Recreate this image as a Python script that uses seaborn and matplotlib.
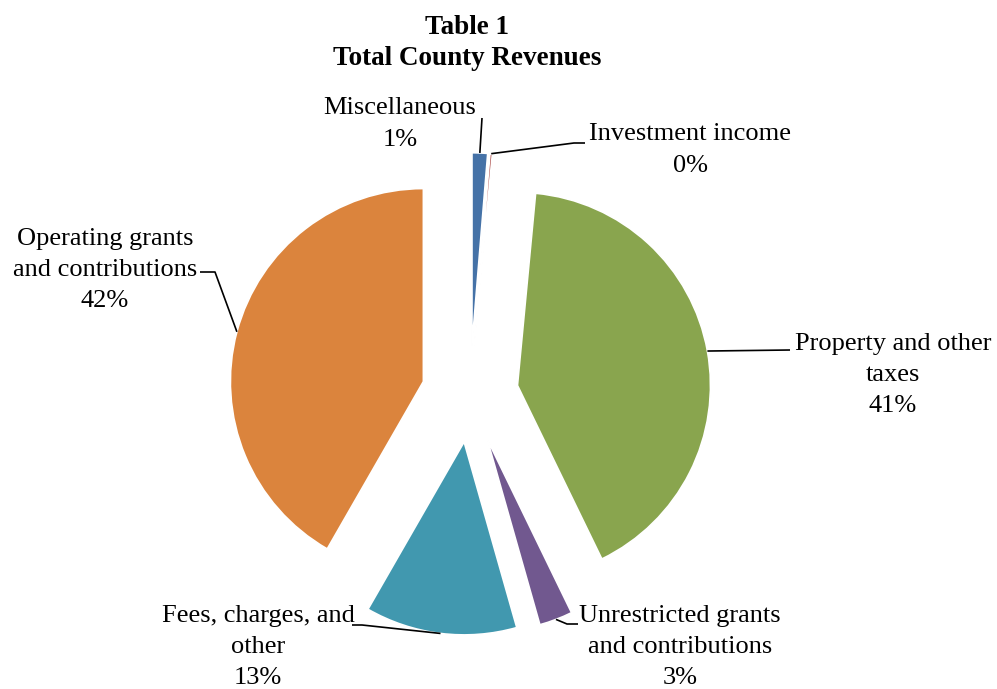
import matplotlib
matplotlib.use("Agg")
import matplotlib.pyplot as plt
import numpy as np
import seaborn as sns

# data (share of total county revenues, %)
categories = ["Miscellaneous", "Investment income", "Property and other\ntaxes",
              "Unrestricted grants\nand contributions", "Fees, charges, and\nother",
              "Operating grants\nand contributions"]
values = [1.3, 0.2, 41.3, 2.8, 12.7, 41.7]
colors = ["#4572A7", "#AA4643", "#89A54E", "#71588F", "#4198AF", "#DB843D"]

W, H = 997, 689
R = 193  # pie radius in pixels

sns.set_theme(style="white")
plt.rcParams["font.family"] = ["Liberation Serif", "DejaVu Serif"]
plt.rcParams["text.color"] = "black"

fig = plt.figure(figsize=(W / 100, H / 100), dpi=100)
ax = fig.add_axes([0, 0, 1, 1])

palette = sns.color_palette(colors)
# explode is in data units, so scale it by the radius
wedges, _ = ax.pie(values, colors=palette, startangle=90, counterclock=False,
                   explode=[0.25 * R] * len(values), radius=R, center=(470, H - 394),
                   wedgeprops=dict(edgecolor="white", linewidth=1.2), frame=True)
ax.set_xlim(0, W)
ax.set_ylim(0, H)
ax.set_aspect("equal")
ax.axis("off")

total = sum(values)
pcts = [f"{round(v / total * 100):.0f}%" for v in values]

# label layout in image pixels: text centre, leader elbow points
label_pos = [(400, 124), (690, 150), (893, 375), (680, 647), (258, 647), (105, 270)]
elbows = [[(482, 118)],
          [(574, 143), (585, 143)],
          [(790, 350)],
          [(567, 624), (578, 624)],
          [(362, 625), (352, 625)],
          [(215, 272), (200, 272)]]

for w, name, pct, (tx, ty), pts in zip(wedges, categories, pcts, label_pos, elbows):
    mid = np.deg2rad((w.theta1 + w.theta2) / 2)
    cx, cy = w.center
    anchor = (cx + w.r * np.cos(mid), cy + w.r * np.sin(mid))
    xs = [anchor[0]] + [p[0] for p in pts]
    ys = [anchor[1]] + [H - p[1] for p in pts]
    ax.plot(xs, ys, color="black", lw=1.2, solid_capstyle="butt")
    ax.text(tx, H - ty, f"{name}\n{pct}", ha="center", va="center",
            fontsize=19, linespacing=1.54, color="black")

fig.text(467 / W, 1 - 43 / H, "Table 1\nTotal County Revenues", ha="center",
         va="center", fontsize=19.5, fontweight="bold", linespacing=1.32, color="black")

fig.savefig("out.png", dpi=100)
